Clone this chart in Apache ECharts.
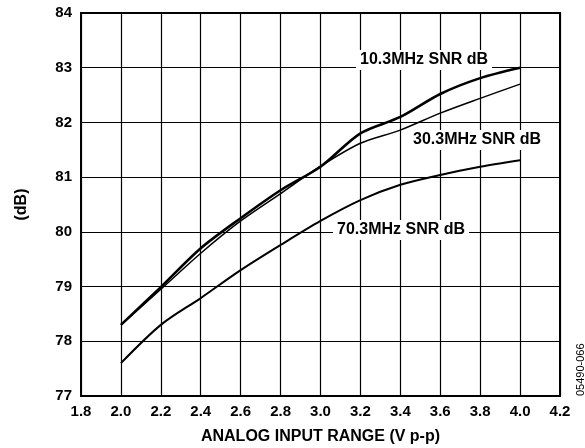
<!DOCTYPE html>
<html><head><meta charset="utf-8">
<script src="https://cdn.jsdelivr.net/npm/echarts@6/dist/echarts.min.js"></script>
<style>html,body{margin:0;padding:0;background:#fff}#c{width:585px;height:448px}</style>
</head><body><div id="c"></div>
<script>
const xValues = [2.0, 2.2, 2.4, 2.6, 2.8, 3.0, 3.2, 3.4, 3.6, 3.8, 4.0];
const snr10 = [78.3, 78.99, 79.70, 80.25, 80.76, 81.19, 81.80, 82.10, 82.52, 82.81, 83.0];
const snr30 = [78.3, 78.95, 79.61, 80.20, 80.70, 81.20, 81.62, 81.86, 82.17, 82.44, 82.70];
const snr70 = [77.6, 78.30, 78.79, 79.30, 79.76, 80.20, 80.58, 80.86, 81.04, 81.19, 81.31];
const seriesNames = ['10.3MHz SNR dB', '30.3MHz SNR dB', '70.3MHz SNR dB'];
const xTitle = 'ANALOG INPUT RANGE (V p-p)';
const yTitle = '(dB)';
const figId = '05490-066';

const chart = echarts.init(document.getElementById('c'));
const font = 'Liberation Sans, Arial, sans-serif';
function mk(name, vals, w) {
  return { name, type: 'line', data: xValues.map((x, i) => [x, vals[i]]), smooth: 0.3,
    showSymbol: false, lineStyle: { color: '#000', width: w }, z: 5 };
}
const lbl = (text, left, top) => ({ type: 'text', left, top, z: 10,
  style: { text, fill: '#000', font: 'bold 16px ' + font, backgroundColor: '#fff', padding: [2, 4] } });
chart.setOption({
  animation: false,
  grid: { left: 81, top: 13, right: 25, bottom: 52, show: true, borderColor: '#000', borderWidth: 2,
    containLabel: false, outerBoundsMode: 'none' },
  xAxis: { type: 'value', min: 1.8, max: 4.2, interval: 0.2,
    axisLine: { show: true, lineStyle: { color: '#000', width: 2 } }, axisTick: { show: false },
    splitLine: { show: true, lineStyle: { color: '#000', width: 1.2 } },
    axisLabel: { color: '#000', fontFamily: font, fontWeight: 'bold', fontSize: 15, margin: 8,
      formatter: v => v.toFixed(1) },
    name: xTitle, nameLocation: 'middle', nameGap: 33,
    nameTextStyle: { color: '#000', fontFamily: font, fontWeight: 'bold', fontSize: 16 } },
  yAxis: { type: 'value', min: 77, max: 84, interval: 1,
    axisLine: { show: true, lineStyle: { color: '#000', width: 2 } }, axisTick: { show: false },
    splitLine: { show: true, lineStyle: { color: '#000', width: 1.2 } },
    axisLabel: { color: '#000', fontFamily: font, fontWeight: 'bold', fontSize: 15, margin: 9 },
    name: yTitle, nameLocation: 'middle', nameGap: 51, nameRotate: 90,
    nameTextStyle: { color: '#000', fontFamily: font, fontWeight: 'bold', fontSize: 16 } },
  series: [mk(seriesNames[0], snr10, 2.6), mk(seriesNames[1], snr30, 1.5), mk(seriesNames[2], snr70, 2)],
  graphic: [
    lbl(seriesNames[0], 356, 50),
    lbl(seriesNames[1], 409, 130),
    lbl(seriesNames[2], 333, 220),
    { type: 'text', x: 575, y: 396, rotation: Math.PI / 2, z: 10, style: { text: figId, fill: '#000', font: '11px ' + font } }
  ]
});
</script></body></html>
